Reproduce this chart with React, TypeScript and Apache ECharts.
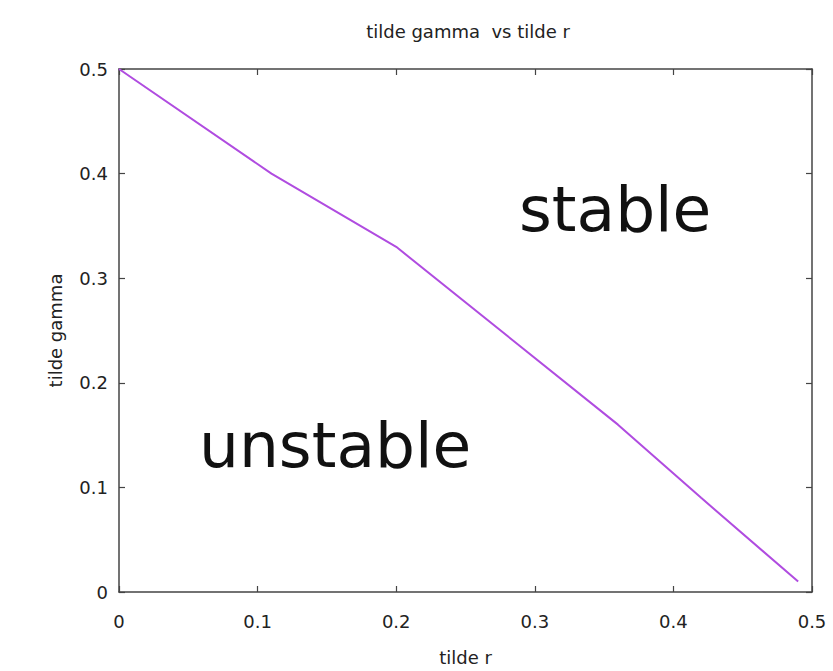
import React, { useEffect, useRef } from "react";
import * as echarts from "echarts";

const xValues = [0, 0.11, 0.2, 0.36, 0.42, 0.49];
const yValues = [0.5, 0.4, 0.33, 0.16, 0.09, 0.01];
const titleText = "tilde gamma  vs tilde r";
const xName = "tilde r";
const yName = "tilde gamma";
const regionLabels = ["stable", "unstable"];

const FONT = '"DejaVu Sans", Verdana, sans-serif';
const AXIS_COLOR = "#444";

export default function App() {
  const ref = useRef<HTMLDivElement>(null);
  useEffect(() => {
    if (!ref.current) return;
    const chart = echarts.init(ref.current, undefined, { renderer: "svg" });
    const data = xValues.map((x, i) => [x, yValues[i]]);
    const baseAxis = {
      type: "value" as const,
      min: 0,
      max: 0.5,
      interval: 0.1,
      splitLine: { show: false },
      axisLine: { show: true, onZero: false, lineStyle: { color: AXIS_COLOR, width: 1.5 } },
      axisTick: { show: true, inside: true, length: 6, lineStyle: { color: AXIS_COLOR, width: 1.2 } },
    };
    chart.setOption({
      animation: false,
      backgroundColor: "#fff",
      title: {
        text: titleText,
        left: 463,
        textAlign: "center",
        top: 17,
        textStyle: { fontFamily: FONT, fontSize: 18, fontWeight: "normal", color: "#222" },
      },
      grid: { left: 119, right: 21, top: 69, bottom: 74, containLabel: false },
      xAxis: [
        {
          ...baseAxis,
          position: "bottom",
          name: xName,
          nameLocation: "middle",
          nameGap: 56,
          nameTextStyle: { fontFamily: FONT, fontSize: 18, color: "#222" },
          axisLabel: { show: true, margin: 20, fontFamily: FONT, fontSize: 18, color: "#222" },
        },
        {
          ...baseAxis,
          position: "top",
          axisLabel: { show: false },
        },
      ],
      yAxis: [
        {
          ...baseAxis,
          position: "left",
          name: yName,
          nameLocation: "middle",
          nameGap: 55,
          nameRotate: 90,
          nameTextStyle: { fontFamily: FONT, fontSize: 18, color: "#222" },
          axisLabel: { show: true, margin: 11, fontFamily: FONT, fontSize: 18, color: "#222" },
        },
        {
          ...baseAxis,
          position: "right",
          axisLabel: { show: false },
        },
      ],
      series: [
        {
          type: "line",
          data,
          showSymbol: false,
          symbol: "none",
          lineStyle: { color: "#b04ce0", width: 2 },
          xAxisIndex: 0,
          yAxisIndex: 0,
        },
      ],
      graphic: [
        {
          type: "text",
          left: 519,
          top: 178,
          style: { text: regionLabels[0], fontFamily: FONT, fontSize: 63, fill: "#111" },
        },
        {
          type: "text",
          left: 199,
          top: 414,
          style: { text: regionLabels[1], fontFamily: FONT, fontSize: 63, fill: "#111" },
        },
      ],
    });
    return () => chart.dispose();
  }, []);
  return (
    <div
      ref={ref}
      style={{ position: "fixed", left: 0, top: 0, width: 833, height: 671 }}
    />
  );
}
